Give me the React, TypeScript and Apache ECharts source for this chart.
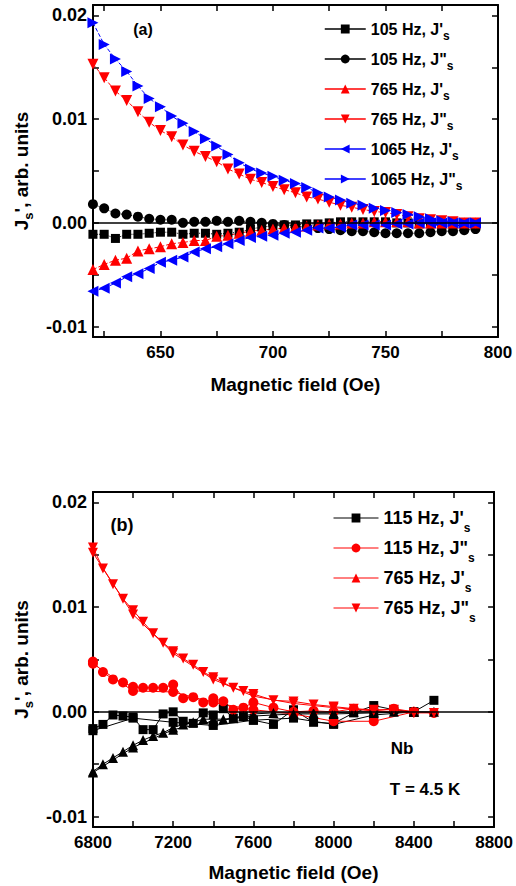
import React, { useEffect, useRef } from 'react';
import * as echarts from 'echarts';

// ---------- Panel (a) ----------
const fieldA = [620, 625, 630, 635, 640, 645, 650, 655, 660, 665, 670, 675, 680, 685, 690, 695, 700, 705, 710, 715, 720, 725, 730, 735, 740, 745, 750, 755, 760, 765, 770, 775, 780, 785, 790];
const jp105 = [-0.0011, -0.0011, -0.0015, -0.0011, -0.0011, -0.0010, -0.0009, -0.0009, -0.0011, -0.0010, -0.0010, -0.0011, -0.0010, -0.0009, -0.0006, -0.0004, -0.0003, -0.0002, -0.0002, -0.0001, -0.0001, 0.0000, 0.0001, 0.0001, 0.0001, 0.0001, 0.0001, 0.0000, 0.0000, -0.0001, -0.0001, -0.0002, -0.0002, -0.0003, -0.0003];
const jpp105 = [0.0018, 0.0014, 0.0009, 0.0008, 0.0006, 0.0004, 0.0003, 0.0003, 0.0000, 0.0001, 0.0001, 0.0002, 0.0001, 0.0002, 0.0001, 0.0000, -0.0001, -0.0002, -0.0003, -0.0004, -0.0005, -0.0006, -0.0007, -0.0008, -0.0008, -0.0009, -0.0010, -0.0010, -0.0010, -0.0010, -0.0009, -0.0008, -0.0008, -0.0007, -0.0006];
const jp765 = [-0.0045, -0.0040, -0.0036, -0.0034, -0.0027, -0.0025, -0.0023, -0.0020, -0.0019, -0.0017, -0.0017, -0.0013, -0.0012, -0.0010, -0.0008, -0.0007, -0.0006, -0.0005, -0.0004, -0.0003, -0.0002, -0.0001, -0.0001, 0.0000, 0.0000, 0.0001, 0.0001, 0.0001, 0.0001, 0.0000, 0.0000, 0.0000, 0.0000, 0.0000, 0.0000];
const jpp765 = [0.0153, 0.0140, 0.0127, 0.0118, 0.0107, 0.0097, 0.0089, 0.0083, 0.0075, 0.0069, 0.0064, 0.0059, 0.0052, 0.0047, 0.0042, 0.0039, 0.0035, 0.0032, 0.0029, 0.0025, 0.0023, 0.0020, 0.0017, 0.0015, 0.0013, 0.0011, 0.0010, 0.0008, 0.0006, 0.0004, 0.0003, 0.0002, 0.0001, 0.0000, 0.0000];
const jp1065 = [-0.0066, -0.0063, -0.0058, -0.0052, -0.0049, -0.0044, -0.0038, -0.0036, -0.0033, -0.0028, -0.0025, -0.0023, -0.0020, -0.0017, -0.0014, -0.0013, -0.0012, -0.0010, -0.0009, -0.0007, -0.0005, -0.0005, -0.0004, -0.0002, -0.0002, -0.0002, -0.0002, -0.0001, -0.0001, 0.0000, 0.0000, 0.0000, 0.0000, 0.0000, 0.0000];
const jpp1065 = [0.0193, 0.0172, 0.0158, 0.0146, 0.0132, 0.0120, 0.0112, 0.0103, 0.0096, 0.0088, 0.0081, 0.0074, 0.0066, 0.0058, 0.0052, 0.0048, 0.0045, 0.0041, 0.0038, 0.0034, 0.0029, 0.0025, 0.0022, 0.0019, 0.0017, 0.0014, 0.0012, 0.0010, 0.0008, 0.0006, 0.0004, 0.0002, 0.0001, 0.0000, 0.0000];
const namesA = ["105 Hz, J's", '105 Hz, J"s', "765 Hz, J's", '765 Hz, J"s', "1065 Hz, J's", '1065 Hz, J"s'];
const xTicksA = [625, 650, 675, 700, 725, 750, 775, 800];
const xLabelsA = [650, 700, 750, 800];

// ---------- Panel (b) ----------
const fieldB = [6800, 6850, 6900, 6950, 7000, 7050, 7100, 7150, 7200, 7250, 7300, 7350, 7400, 7450, 7500, 7550, 7600, 7700, 7800, 7900, 8000, 8100, 8200, 8300, 8400, 8500];
const fieldB2 = [6800, 7000, 7200, 7400, 7600, 7800, 8000, 8200, 8400];
const jp115 = [-0.0016, -0.0012, -0.0003, -0.0004, -0.0005, -0.0017, -0.0017, -0.0002, 0.0000, -0.0009, -0.0011, -0.0001, -0.0003, 0.0003, -0.0006, -0.0004, -0.0008, -0.0012, 0.0002, -0.0010, -0.0011, -0.0001, 0.0006, 0.0002, 0.0000, 0.0011];
const jpp115 = [0.0048, 0.0038, 0.0031, 0.0028, 0.0024, 0.0023, 0.0023, 0.0023, 0.0026, 0.0013, 0.0014, 0.0009, 0.0013, 0.0010, 0.0002, 0.0004, 0.0009, 0.0004, 0.0000, 0.0001, 0.0000, 0.0003, 0.0001, 0.0003, 0.0000, -0.0001];
const jpB765 = [-0.0057, -0.0050, -0.0044, -0.0038, -0.0032, -0.0027, -0.0023, -0.0020, -0.0015, -0.0012, -0.0010, -0.0007, -0.0007, -0.0007, -0.0006, -0.0004, -0.0002, -0.0001, -0.0001, -0.0001, -0.0001, 0.0000, 0.0000, 0.0000, 0.0000, 0.0000];
const jppB765 = [0.0157, 0.0137, 0.0122, 0.0108, 0.0097, 0.0086, 0.0075, 0.0066, 0.0058, 0.0051, 0.0045, 0.0038, 0.0033, 0.0028, 0.0023, 0.0020, 0.0017, 0.0011, 0.0010, 0.0007, 0.0005, 0.0003, 0.0002, 0.0002, -0.0001, -0.0001];
const jp115b = [-0.0018, -0.0006, -0.0010, -0.0013, -0.0008, -0.0006, -0.0012, -0.0003, 0.0000];
const jpp115b = [0.0046, 0.0020, 0.0019, 0.0009, 0.0002, -0.0002, -0.0009, -0.0009, 0.0000];
const jpB765b = [-0.0058, -0.0034, -0.0017, -0.0009, -0.0004, -0.0002, -0.0002, -0.0001, 0.0000];
const jppB765b = [0.0152, 0.0093, 0.0056, 0.0031, 0.0015, 0.0008, 0.0004, 0.0001, -0.0001];
const namesB = ["115 Hz, J's", '115 Hz, J"s', "765 Hz, J's", '765 Hz, J"s'];
const xTicksB = [7000, 7200, 7400, 7600, 7800, 8000, 8200, 8400, 8600, 8800];
const xLabelsB = [6800, 7200, 7600, 8000, 8400, 8800];

const yTicks = [-0.01, -0.005, 0, 0.005, 0.01, 0.015, 0.02];
const yLabels = [-0.01, 0, 0.01, 0.02];

const FONT = '"Liberation Sans", Arial, sans-serif';
const BLACK = '#000000';
const RED = '#ff0000';
const BLUE = '#0000ff';

const pair = (xs: number[], ys: number[]) => xs.map((x, i) => [x, ys[i]]);

function buildOption() {
  const axisLine = { onZero: false, lineStyle: { color: BLACK, width: 2 } };
  const labelStyle = { fontFamily: FONT, fontWeight: 'bold' as const, fontSize: 17, color: BLACK };
  const yFmt = (v: number) => (Math.abs(v) < 1e-9 ? '0.00' : v.toFixed(2));

  const mkX = (grid: number, min: number, max: number, ticks: number[], labels: number[], top: boolean, name?: string, gap?: number) => ({
    type: 'value', gridIndex: grid, min, max, position: top ? 'top' : 'bottom',
    axisLine,
    axisTick: { show: true, inside: true, length: 6, customValues: ticks, lineStyle: { color: BLACK, width: 1.5 } },
    axisLabel: top ? { show: false } : { ...labelStyle, margin: 7, customValues: labels, formatter: (v: number) => String(v) },
    splitLine: { show: false },
    name: name || '', nameLocation: 'middle', nameGap: gap || 0,
    nameTextStyle: { fontFamily: FONT, fontWeight: 'bold', fontSize: 19, color: BLACK },
  });
  const yName = '{m|J}{s|s}{m|\', arb. units}';
  const mkY = (grid: number, right: boolean, named: boolean, gap: number) => ({
    type: 'value', gridIndex: grid, min: -0.011, max: 0.021, position: right ? 'right' : 'left',
    axisLine,
    axisTick: { show: true, inside: true, length: 6, customValues: yTicks, lineStyle: { color: BLACK, width: 1.5 } },
    axisLabel: right ? { show: false } : { ...labelStyle, fontSize: 18, margin: 6, customValues: yLabels, formatter: yFmt },
    splitLine: { show: false },
    name: named ? yName : '', nameLocation: 'middle', nameGap: gap,
    nameTextStyle: {
      fontFamily: FONT, fontWeight: 'bold', fontSize: 19, color: BLACK,
      rich: {
        m: { fontFamily: FONT, fontWeight: 'bold', fontSize: 19, lineHeight: 22, color: BLACK },
        s: { fontFamily: FONT, fontWeight: 'bold', fontSize: 13, lineHeight: 22, padding: [14, 0, 0, 0], color: BLACK },
      },
    },
  });

  const zeroLine = {
    silent: true, symbol: 'none', label: { show: false },
    lineStyle: { color: BLACK, type: 'solid', width: 1.5 },
    data: [{ yAxis: 0 }],
  };

  const sA = (name: string, ys: number[], color: string, symbol: string, rot: number, size: number, dash: string, withZero = false) => ({
    type: 'line', name, xAxisIndex: 0, yAxisIndex: 0,
    data: pair(fieldA, ys), symbol, symbolSize: size, symbolRotate: rot,
    itemStyle: { color }, lineStyle: { color, width: 1, type: dash },
    ...(withZero ? { markLine: zeroLine } : {}),
  });
  const sB = (name: string, xs: number[], ys: number[], color: string, symbol: string, rot: number, size: number, withZero = false) => ({
    type: 'line', name, xAxisIndex: 2, yAxisIndex: 2,
    data: pair(xs, ys), symbol, symbolSize: size, symbolRotate: rot,
    itemStyle: { color }, lineStyle: { color, width: 1, type: 'solid' },
    ...(withZero ? { markLine: zeroLine } : {}),
  });

  const legendFmt = (n: string) => `{m|${n.slice(0, -1)}}{s|s}`;
  const legendText = (size: number, sub: number, pad: number) => ({
    fontFamily: FONT, fontWeight: 'bold', fontSize: size, color: BLACK,
    rich: {
      m: { fontFamily: FONT, fontWeight: 'bold', fontSize: size, lineHeight: 20, color: BLACK },
      s: { fontFamily: FONT, fontWeight: 'bold', fontSize: sub, lineHeight: 20, padding: [pad, 0, 0, 0], color: BLACK },
    },
  });

  return {
    animation: false,
    backgroundColor: '#ffffff',
    grid: [
      { left: 87, top: 5, width: 411, height: 332 },
      { left: 80, top: 492, width: 416, height: 335 },
    ],
    xAxis: [
      mkX(0, 620, 800, xTicksA, xLabelsA, false, 'Magnetic field (Oe)', 38),
      mkX(0, 620, 800, xTicksA, xLabelsA, true),
      mkX(1, 6800, 8800, xTicksB, xLabelsB, false, 'Magnetic field (Oe)', 36),
      mkX(1, 6800, 8800, xTicksB, xLabelsB, true),
    ],
    yAxis: [
      mkY(0, false, true, 52),
      mkY(0, true, false, 0),
      mkY(1, false, true, 47),
      mkY(1, true, false, 0),
    ],
    legend: [
      {
        orient: 'vertical', left: 324, top: 16, padding: 0, itemWidth: 41, itemHeight: 11, itemGap: 4,
        data: namesA, formatter: legendFmt, textStyle: legendText(16, 12, 14),
        lineStyle: { type: 'solid', width: 1.5 }, selectedMode: false,
      },
      {
        orient: 'vertical', left: 333, top: 502, padding: 0, itemWidth: 45, itemHeight: 11, itemGap: -2,
        data: namesB, formatter: legendFmt, textStyle: legendText(18, 12, 20),
        lineStyle: { type: 'solid', width: 1 }, selectedMode: false,
      },
    ],
    graphic: [
      { type: 'text', x: 143, y: 29, style: { text: '(a)', font: `bold 16px ${FONT}`, fill: BLACK, align: 'center', verticalAlign: 'middle' } },
      { type: 'text', x: 122, y: 525, style: { text: '(b)', font: `bold 18px ${FONT}`, fill: BLACK, align: 'center', verticalAlign: 'middle' } },
      { type: 'text', x: 402, y: 748, style: { text: 'Nb', font: `bold 17px ${FONT}`, fill: BLACK, align: 'center', verticalAlign: 'middle' } },
      { type: 'text', x: 425, y: 789, style: { text: 'T = 4.5 K', font: `bold 17px ${FONT}`, fill: BLACK, align: 'center', verticalAlign: 'middle' } },
    ],
    series: [
      sA(namesA[0], jp105, BLACK, 'rect', 0, 9, 'dotted', true),
      sA(namesA[1], jpp105, BLACK, 'circle', 0, 10, 'dotted'),
      sA(namesA[2], jp765, RED, 'triangle', 0, 11, 'dashed'),
      sA(namesA[3], jpp765, RED, 'triangle', 180, 11, 'dashed'),
      sA(namesA[4], jp1065, BLUE, 'triangle', 90, 11, 'dashed'),
      sA(namesA[5], jpp1065, BLUE, 'triangle', -90, 11, 'dashed'),
      sB(namesB[0], fieldB, jp115, BLACK, 'rect', 0, 9, true),
      sB(namesB[1], fieldB, jpp115, RED, 'circle', 0, 10),
      sB(namesB[2], fieldB, jpB765, BLACK, 'triangle', 0, 10),
      sB(namesB[3], fieldB, jppB765, RED, 'triangle', 180, 10),
      sB(namesB[0], fieldB2, jp115b, BLACK, 'rect', 0, 9),
      sB(namesB[1], fieldB2, jpp115b, RED, 'circle', 0, 10),
      sB(namesB[2], fieldB2, jpB765b, BLACK, 'triangle', 0, 10),
      sB(namesB[3], fieldB2, jppB765b, RED, 'triangle', 180, 10),
    ],
  };
}

export default function App() {
  const ref = useRef<HTMLDivElement>(null);
  useEffect(() => {
    if (!ref.current) return;
    const chart = echarts.init(ref.current, null, { renderer: 'svg' });
    chart.setOption(buildOption() as any);
    return () => chart.dispose();
  }, []);
  return (
    <div
      ref={ref}
      style={{ position: 'fixed', left: 0, top: 0, width: 516, height: 886, background: '#ffffff' }}
    />
  );
}
